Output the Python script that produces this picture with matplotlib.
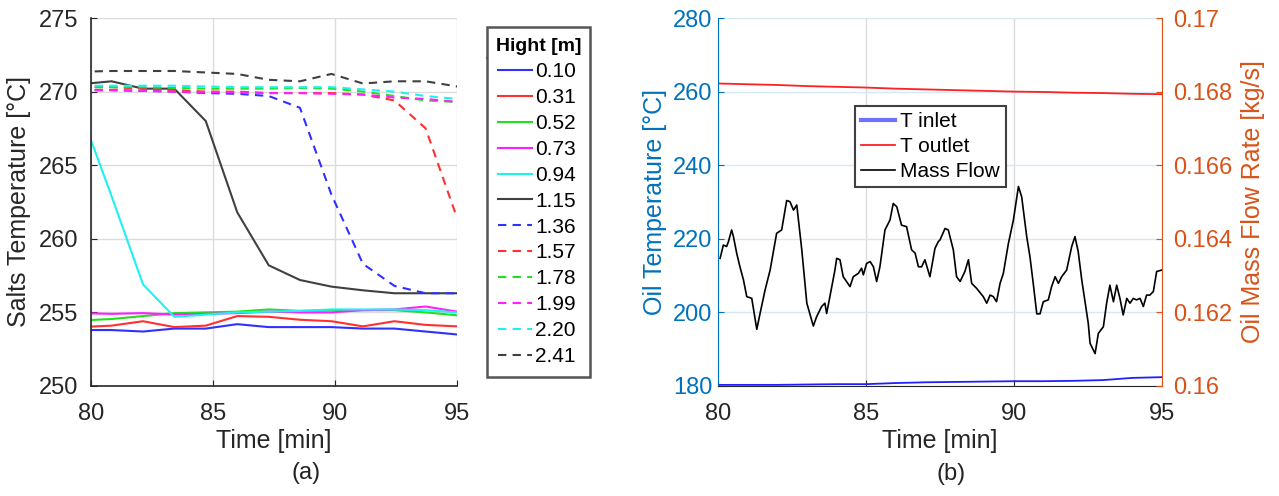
import numpy as np
import matplotlib
matplotlib.use("Agg")
import matplotlib.pyplot as plt
from matplotlib.lines import Line2D
from matplotlib.ticker import FuncFormatter

plt.rcParams['font.family'] = ['Liberation Sans', 'DejaVu Sans']

# ---- panel (a): salt temperature at each height ----
time_a = [79.55, 80.84, 82.13, 83.41, 84.70, 85.99, 87.28, 88.56, 89.85, 91.14, 92.43, 93.71, 95.00]
heights = ["0.10", "0.31", "0.52", "0.73", "0.94", "1.15",
           "1.36", "1.57", "1.78", "1.99", "2.20", "2.41"]
h010 = [253.8, 253.8, 253.7, 253.9, 253.9, 254.2, 254.0, 254.0, 254.0, 253.9, 253.9, 253.7, 253.5]
h031 = [254.0, 254.1, 254.4, 254.0, 254.1, 254.75, 254.7, 254.5, 254.4, 254.05, 254.4, 254.15, 254.05]
h052 = [254.45, 254.55, 254.75, 254.95, 255.0, 255.05, 255.2, 255.1, 255.15, 255.15, 255.15, 255.0, 254.8]
h073 = [254.95, 254.9, 254.95, 254.85, 254.9, 254.95, 255.05, 255.0, 255.0, 255.15, 255.2, 255.4, 255.05]
h094 = [268.7, 262.9, 256.9, 254.7, 254.85, 255.0, 255.05, 255.1, 255.2, 255.2, 255.2, 255.15, 255.0]
h115 = [270.5, 270.7, 270.2, 270.2, 268.0, 261.8, 258.2, 257.2, 256.75, 256.5, 256.3, 256.3, 256.3]
h136 = [270.1, 270.1, 270.05, 270.0, 269.9, 269.85, 269.7, 268.9, 263.0, 258.3, 256.8, 256.3, 256.3]
h157 = [270.3, 270.3, 270.2, 270.1, 270.0, 270.0, 269.9, 269.9, 269.9, 269.8, 269.4, 267.5, 261.4]
h178 = [270.3, 270.3, 270.3, 270.25, 270.2, 270.2, 270.2, 270.25, 270.2, 270.0, 269.7, 269.4, 269.3]
h199 = [270.1, 270.1, 270.05, 270.0, 269.95, 269.95, 269.9, 269.9, 269.85, 269.8, 269.6, 269.5, 269.3]
h220 = [270.4, 270.4, 270.4, 270.4, 270.35, 270.3, 270.3, 270.3, 270.3, 270.15, 270.0, 269.7, 269.5]
h241 = [271.35, 271.4, 271.4, 271.4, 271.3, 271.2, 270.8, 270.7, 271.2, 270.55, 270.7, 270.7, 270.35]
series_a = [h010, h031, h052, h073, h094, h115, h136, h157, h178, h199, h220, h241]
colors_a = ['#3030ff', '#ff3030', '#20e020', '#ff20ff', '#20f0f0', '#404040'] * 2
styles_a = ['-'] * 6 + ['--'] * 6

# ---- panel (b): oil temperatures and mass flow ----
time_flow = [80.07, 80.18, 80.29, 80.35, 80.46, 80.52, 80.63, 80.74, 80.86, 80.97, 81.14, 81.31,
             81.42, 81.59, 81.76, 81.98, 82.15, 82.32, 82.43, 82.55, 82.66, 82.83, 83.00, 83.22,
             83.33, 83.50, 83.61, 83.67, 83.78, 83.95, 84.01, 84.12, 84.23, 84.46, 84.57, 84.74,
             84.85, 84.91, 85.02, 85.14, 85.25, 85.36, 85.47, 85.64, 85.81, 85.92, 86.04, 86.20,
             86.37, 86.54, 86.66, 86.77, 86.88, 86.99, 87.16, 87.33, 87.44, 87.50, 87.67, 87.78,
             87.95, 88.06, 88.18, 88.34, 88.46, 88.57, 88.74, 88.96, 89.08, 89.19, 89.30, 89.41,
             89.53, 89.64, 89.81, 89.98, 90.15, 90.26, 90.43, 90.54, 90.65, 90.77, 90.88, 90.99,
             91.16, 91.27, 91.39, 91.50, 91.61, 91.78, 91.95, 92.06, 92.17, 92.29, 92.40, 92.51,
             92.57, 92.74, 92.85, 93.02, 93.13, 93.24, 93.36, 93.47, 93.58, 93.69, 93.81, 93.92,
             94.03, 94.14, 94.26, 94.37, 94.48, 94.59, 94.71, 94.82, 94.99]
mass_flow = [0.16347, 0.16383, 0.16379, 0.16392, 0.16424, 0.16406, 0.16361, 0.16324, 0.16288, 0.16243,
             0.16238, 0.16154, 0.16197, 0.16261, 0.16315, 0.16415, 0.16424, 0.16504, 0.16501, 0.16478,
             0.16492, 0.16370, 0.16225, 0.16163, 0.16188, 0.16216, 0.16225, 0.16197, 0.16243, 0.16315,
             0.16347, 0.16343, 0.16297, 0.16270, 0.16297, 0.16306, 0.16320, 0.16302, 0.16333, 0.16338,
             0.16324, 0.16284, 0.16324, 0.16424, 0.16451, 0.16496, 0.16487, 0.16437, 0.16433, 0.16370,
             0.16361, 0.16324, 0.16324, 0.16343, 0.16297, 0.16374, 0.16392, 0.16397, 0.16428, 0.16424,
             0.16370, 0.16297, 0.16284, 0.16311, 0.16343, 0.16279, 0.16265, 0.16243, 0.16225, 0.16247,
             0.16243, 0.16229, 0.16279, 0.16306, 0.16387, 0.16451, 0.16542, 0.16514, 0.16406, 0.16351,
             0.16279, 0.16196, 0.16196, 0.16229, 0.16234, 0.16270, 0.16297, 0.16279, 0.16297, 0.16315,
             0.16379, 0.16406, 0.16365, 0.16288, 0.16229, 0.16170, 0.16116, 0.16088, 0.16143, 0.16161,
             0.16225, 0.16274, 0.16229, 0.16274, 0.16238, 0.16193, 0.16238, 0.16225, 0.16238, 0.16234,
             0.16238, 0.16216, 0.16247, 0.16247, 0.16257, 0.16311, 0.16315]

time_oil = [80.0, 81.0, 82.0, 83.0, 84.0, 85.0, 86.0, 87.0, 88.0, 89.0, 90.0, 91.0, 92.0, 93.0, 93.5, 94.0, 95.0]
t_inlet = [180.3, 180.3, 180.3, 180.4, 180.5, 180.5, 180.8, 181.0, 181.1, 181.2, 181.3, 181.3, 181.4, 181.6, 181.9, 182.2, 182.4]
t_outlet = [262.2, 262.0, 261.8, 261.5, 261.3, 261.1, 260.8, 260.6, 260.4, 260.2, 260.0, 259.9, 259.7, 259.6, 259.5, 259.4, 259.3]

dark = '#262626'
blue_ax = '#0072BD'
orange_ax = '#D95319'

fig = plt.figure(figsize=(12.79, 4.96), dpi=100)

# ---------------- panel (a) ----------------
ax1 = fig.add_axes([0.0712, 0.2218, 0.2862, 0.7419])
for vals, lab, c, ls in zip(series_a, heights, colors_a, styles_a):
    if ls == '--':
        ax1.plot(time_a, vals, color=c, lw=1.5, ls=(0, (4, 3)), label=lab)
    else:
        ax1.plot(time_a, vals, color=c, lw=1.5, label=lab)
ax1.set_xlim(80, 95)
ax1.set_ylim(250, 275)
ax1.set_xticks([80, 85, 90, 95])
ax1.set_yticks([250, 255, 260, 265, 270, 275])
ax1.grid(True, color='#dcdcdc', lw=1)
ax1.set_axisbelow(True)
for s in ['top', 'right']:
    ax1.spines[s].set_visible(False)
for s in ['left', 'bottom']:
    ax1.spines[s].set_color(dark)
    ax1.spines[s].set_linewidth(1.2)
ax1.tick_params(direction='in', length=4, labelsize=17, colors=dark, pad=9)
ax1.tick_params(axis='x', pad=12)
ax1.set_xlabel('Time [min]', fontsize=18, color=dark, labelpad=3)
ax1.set_ylabel('Salts Temperature [°C]', fontsize=18, color=dark, labelpad=6)

leg1 = fig.legend(*ax1.get_legend_handles_labels(), loc='upper left',
                  bbox_to_anchor=(487 / 1279, 1 - 27 / 496, 103 / 1279, 0.0),
                  mode='expand', borderaxespad=0, fontsize=15, title='Hight [m]',
                  title_fontproperties={'weight': 'bold', 'size': 14},
                  handlelength=1.6, handletextpad=0.15, labelspacing=0.33,
                  borderpad=0.55, fancybox=False, framealpha=1, edgecolor='#555555')
leg1.get_frame().set_linewidth(1.8)

# ---------------- panel (b) ----------------
ax2 = fig.add_axes([0.5614, 0.2218, 0.3471, 0.7419])
ax2r = ax2.twinx()
l_in, = ax2.plot(time_oil, t_inlet, color='#2020ff', lw=1.3, label='T inlet')
l_out, = ax2.plot(time_oil, t_outlet, color='#ff2020', lw=1.3, label='T outlet')
l_mf, = ax2r.plot(time_flow, mass_flow, color='black', lw=1.2, label='Mass Flow')
ax2.set_xlim(80, 95)
ax2.set_ylim(180, 280)
ax2r.set_ylim(0.16, 0.17)
ax2.set_xticks([80, 85, 90, 95])
ax2.set_yticks([180, 200, 220, 240, 260, 280])
ax2r.set_yticks([0.16, 0.162, 0.164, 0.166, 0.168, 0.17])
ax2r.yaxis.set_major_formatter(FuncFormatter(lambda v, p: '%g' % round(v, 3)))
ax2.grid(True, axis='y', color='#d6e8f4', lw=1)
ax2.grid(True, axis='x', color='#dcdcdc', lw=1)
ax2.set_axisbelow(True)
for a in (ax2, ax2r):
    a.spines['top'].set_visible(False)
ax2.spines['left'].set_color(blue_ax)
ax2r.spines['left'].set_visible(False)
ax2r.spines['right'].set_color(orange_ax)
ax2r.spines['bottom'].set_visible(False)
ax2.spines['right'].set_visible(False)
ax2.spines['bottom'].set_color(dark)
ax2.tick_params(axis='x', direction='in', length=4, labelsize=17, colors=dark, pad=12)
ax2.tick_params(axis='y', direction='in', length=4, labelsize=17, colors=blue_ax, pad=4)
ax2r.tick_params(axis='y', direction='in', length=4, labelsize=17, colors=orange_ax, pad=8)
ax2.set_xlabel('Time [min]', fontsize=18, color=dark, labelpad=3)
ax2.set_ylabel('Oil Temperature [°C]', fontsize=18, color=blue_ax, labelpad=4)
ax2r.set_ylabel('Oil Mass Flow Rate [kg/s]', fontsize=18, color=orange_ax, rotation=90, labelpad=6)

leg2 = ax2r.legend([Line2D([], [], color='#7070ff', lw=3), l_out, l_mf],
                   ['T inlet', 'T outlet', 'Mass Flow'], loc='upper left',
                   bbox_to_anchor=(855 / 1279, 1 - 106 / 496), bbox_transform=fig.transFigure,
                   borderaxespad=0, fontsize=15, handlelength=1.6, handletextpad=0.25,
                   labelspacing=0.28, borderpad=0.3, fancybox=False, framealpha=1,
                   edgecolor='#404040')
leg2.get_frame().set_linewidth(1.5)

fig.text(306 / 1279, 1 - 473 / 496, '(a)', fontsize=17, ha='center', va='center', color='#222222')
fig.text(951 / 1279, 1 - 474 / 496, '(b)', fontsize=17, ha='center', va='center', color='#222222')

# separator line under the legend title
fig.canvas.draw()
r = fig.canvas.get_renderer()
fb = leg1.get_frame().get_window_extent(r)
tb = leg1.get_title().get_window_extent(r)
ysep = (tb.y0 - 3) / fig.bbox.height
fig.add_artist(Line2D([fb.x0 / fig.bbox.width, fb.x1 / fig.bbox.width], [ysep, ysep],
                      transform=fig.transFigure, color='#555555', lw=1.5))

fig.savefig('out.png', dpi=100)
